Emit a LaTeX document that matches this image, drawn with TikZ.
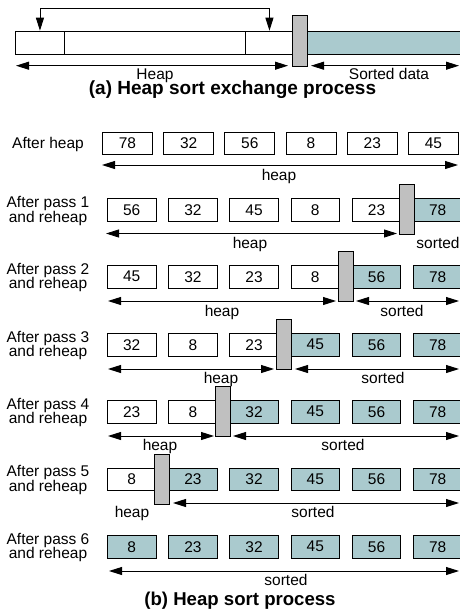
\documentclass[tikz,border=0pt]{standalone}
\usepackage{fontspec}
\setmainfont{Liberation Sans}
\usetikzlibrary{arrows.meta}
\definecolor{tealc}{RGB}{170,202,206}
\definecolor{grayc}{RGB}{192,192,192}
\newcommand\myfs{\fontsize{15.5}{14.7}\selectfont}
\begin{document}
\begin{tikzpicture}[x=1pt,y=-1pt,line width=0.9pt,
  >={Triangle[length=13pt,width=8pt]},
  cell/.style={draw,fill=white,minimum width=48.5pt,minimum height=22.5pt,inner sep=0pt,anchor=north west,font=\myfs},
  divbar/.style={draw,fill=grayc,minimum width=15pt,minimum height=50pt,inner sep=0pt,anchor=north},
  lbl/.style={anchor=base,font=\myfs,inner sep=0pt},
  rowlbl/.style={align=center,font=\myfs,inner sep=0pt},
  dimarrow/.style={<->},
  ttl/.style={anchor=base,inner sep=0pt,font=\bfseries\fontsize{19}{22}\selectfont}]
\useasboundingbox (0,0) rectangle (460,611);
\clip (0,0) rectangle (460,611);

% ---------- (a) ----------
\node[cell,minimum width=49pt,minimum height=23.3pt] (a1) at (15,30.7) {};
\node[cell,minimum width=181pt,minimum height=23.3pt] (a2) at (64,30.7) {};
\node[cell,minimum width=48pt,minimum height=23.3pt] (a3) at (245,30.7) {};
\node[cell,fill=tealc,minimum width=160pt,minimum height=23.3pt] (a4) at (307,30.7) {};
\node[divbar,minimum height=51pt] (ag) at (299.5,15) {};
\draw[dimarrow] (a1.north) -- ++(0,-22.4) -| (a3.north);
\coordinate (ahl) at (16,65.7);
\coordinate (ahr) at (288,65.7);
\coordinate (asl) at (311,65.7);
\coordinate (asr) at (459,65.7);
\draw[dimarrow] (ahl) -- (ahr);
\draw[dimarrow] (asl) -- (asr);
\node[lbl] (aheap) at (155,79.6) {Heap};
\node[lbl] (asorted) at (389,79.6) {Sorted data};
\node[ttl] (atitle) at (232.5,94.8) {(a) Heap sort exchange process};

% ---------- (b) ----------
% row 1
\node[rowlbl] (l1) at (48,144.2) {After heap};
\foreach \v [count=\i from 0] in {78,32,56,8,23,45}
  \node[cell,minimum width=50pt] (r1c\i) at ({102+61.2*\i},131.7) {\v};
\coordinate (h1a) at (102,165);
\coordinate (h1b) at (458,165);
\draw[dimarrow] (h1a) -- (h1b);
\node[lbl] (t1h) at (279,180.8) {heap};

% rows 2-7 boxes
\foreach \r/\T/\h/\vals in {2/198.3/5/{56,32,45,8,23,78},3/265/4/{45,32,23,8,56,78},4/333/3/{32,8,23,45,56,78},5/400/2/{23,8,32,45,56,78},6/467.5/1/{8,23,32,45,56,78},7/535/0/{8,23,32,45,56,78}}{
  \pgfmathtruncatemacro\pp{\r-1}
  \node[rowlbl] (l\r) at (48,{\T+12.5}) {After pass \pp\\and reheap};
  \foreach \v [count=\i from 0] in \vals {
    \ifnum\i<\h \def\fc{white}\else\def\fc{tealc}\fi
    \node[cell,fill=\fc] (r\r c\i) at ({107+61.2*\i},\T) {\v};
  }
}
% gray separators
\foreach \r/\T/\h in {2/198.3/5,3/265/4,4/333/3,5/400/2,6/467.5/1}
  \node[divbar] (g\r) at ({100.65+61.2*\h},{\T-14}) {};

% row 2
\coordinate (h2a) at (106,233.5);
\coordinate (h2b) at (397,233.5);
\draw[dimarrow] (h2a) -- (h2b);
\node[lbl] (t2h) at (250,248.8) {heap};
\node[lbl,anchor=base east] (t2s) at (460,248.8) {sorted};
% row 3
\coordinate (h3a) at (108,301);
\coordinate (h3b) at (336,301);
\coordinate (s3a) at (356,301);
\coordinate (s3b) at (459,301);
\draw[dimarrow] (h3a) -- (h3b);
\draw[dimarrow] (s3a) -- (s3b);
\node[lbl] (t3h) at (222,316) {heap};
\node[lbl] (t3s) at (402,316) {sorted};
% row 4
\coordinate (h4a) at (108,369);
\coordinate (h4b) at (274,369);
\coordinate (s4a) at (295,369);
\coordinate (s4b) at (459,369);
\draw[dimarrow] (h4a) -- (h4b);
\draw[dimarrow] (s4a) -- (s4b);
\node[lbl] (t4h) at (221,383.7) {heap};
\node[lbl] (t4s) at (383,383.7) {sorted};
% row 5
\coordinate (h5a) at (108,436);
\coordinate (h5b) at (214,436);
\coordinate (s5a) at (233,436);
\coordinate (s5b) at (459,436);
\draw[dimarrow] (h5a) -- (h5b);
\draw[dimarrow] (s5a) -- (s5b);
\node[lbl] (t5h) at (160,450.5) {heap};
\node[lbl] (t5s) at (343,450.5) {sorted};
% row 6
\coordinate (s6a) at (173,503);
\coordinate (s6b) at (459,503);
\draw[dimarrow] (s6a) -- (s6b);
\node[lbl] (t6h) at (132,517.8) {heap};
\node[lbl] (t6s) at (313,517.8) {sorted};
% row 7
\coordinate (s7a) at (109,571);
\coordinate (s7b) at (459,571);
\draw[dimarrow] (s7a) -- (s7b);
\node[lbl] (t7s) at (286,585.5) {sorted};

\node[ttl,font=\bfseries\fontsize{18.6}{22}\selectfont] (btitle) at (240,605.7) {(b) Heap sort process};
\end{tikzpicture}
\end{document}
